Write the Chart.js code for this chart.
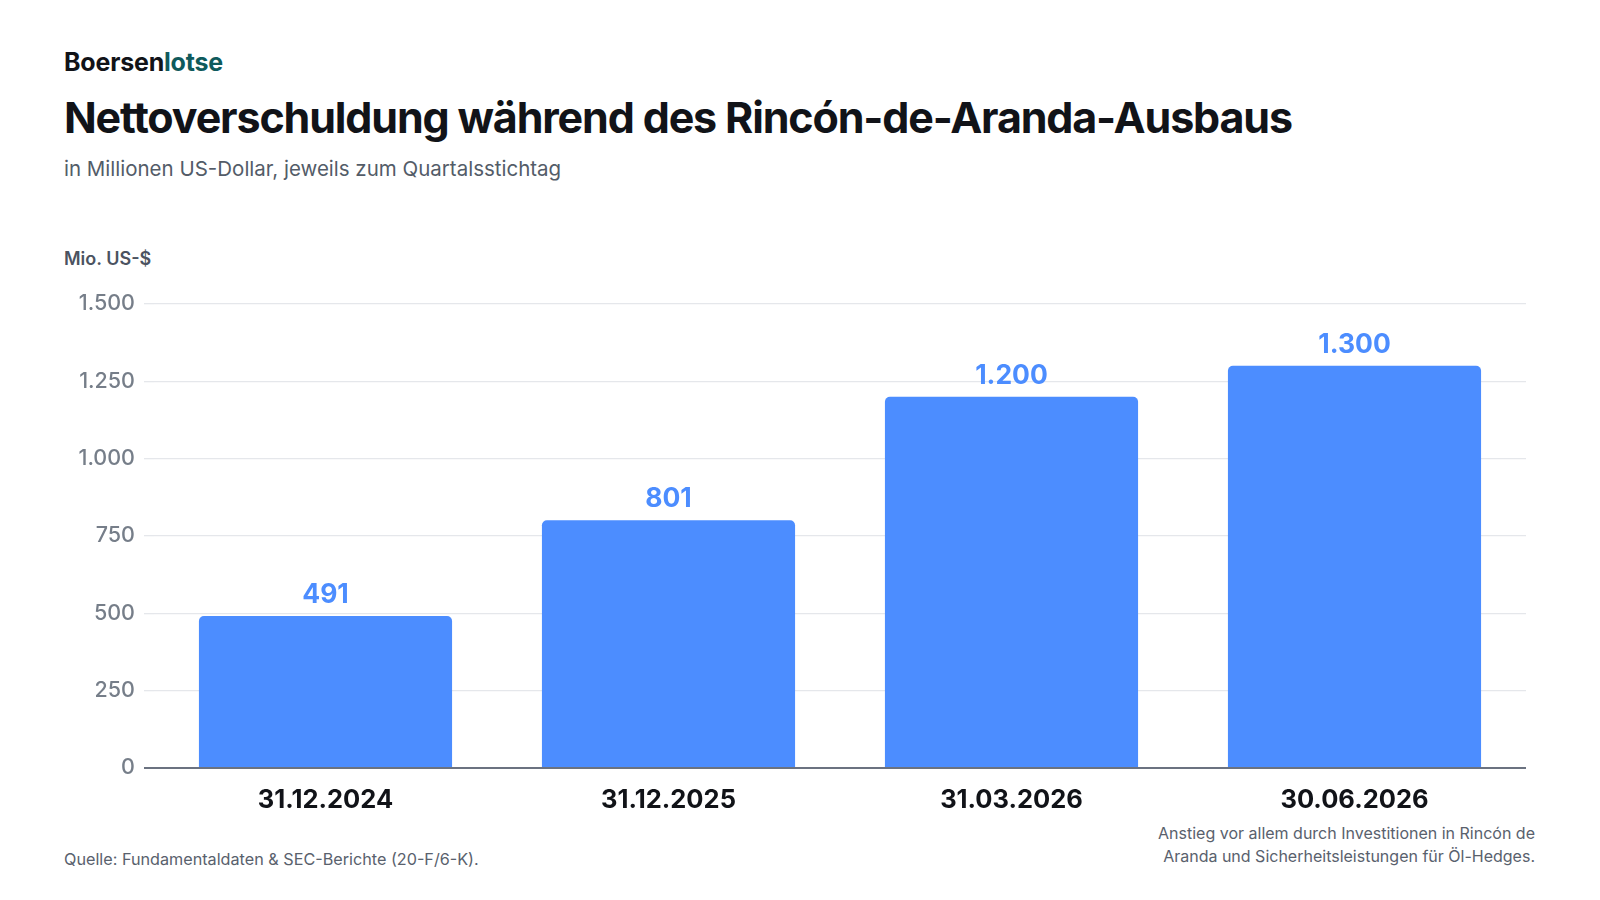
<!DOCTYPE html>
<html lang="de">
<head>
<meta charset="utf-8">
<title>Nettoverschuldung</title>
<script src="https://cdn.jsdelivr.net/npm/chart.js@4.4.1/dist/chart.umd.min.js"></script>
<style>
    html, body {
        margin: 0;
        padding: 0;
        background: #ffffff;
        font-family: Inter, "Noto Sans", sans-serif;
    }
    .page {
        position: relative;
        width: 1600px;
        height: 900px;
        overflow: hidden;
    }
    .brand {
        position: absolute;
        left: 64px;
        top: 47px;
        font-size: 25px;
        font-weight: 700;
        letter-spacing: -0.2px;
        color: #111318;
    }
    .brand span { color: #0f5a5c; }
    .title {
        position: absolute;
        left: 64px;
        top: 91px;
        font-size: 43px;
        font-weight: 700;
        letter-spacing: -1.15px;
        color: #111318;
        white-space: nowrap;
    }
    .subtitle {
        position: absolute;
        left: 64px;
        top: 156px;
        font-size: 20.5px;
        color: #535c68;
    }
    .unit {
        position: absolute;
        left: 64px;
        top: 248px;
        font-size: 18px;
        font-weight: 600;
        color: #4b5361;
    }
    .source {
        position: absolute;
        left: 64px;
        top: 849px;
        font-size: 16.2px;
        color: #59616d;
    }
    .note {
        position: absolute;
        right: 65px;
        top: 822px;
        font-size: 16px;
        line-height: 23px;
        text-align: right;
        color: #59616d;
    }
    #chartBox {
        position: absolute;
        left: 0;
        top: 280px;
        width: 1600px;
        height: 538px;
    }
</style>
</head>
<body>
<div class="page">
    <div class="brand">Boersen<span>lotse</span></div>
    <div class="title">Nettoverschuldung während des Rincón-de-Aranda-Ausbaus</div>
    <div class="subtitle">in Millionen US-Dollar, jeweils zum Quartalsstichtag</div>
    <div class="unit">Mio. US-$</div>
    <div id="chartBox"><canvas id="debtChart"></canvas></div>
    <div class="source">Quelle: Fundamentaldaten &amp; SEC-Berichte (20-F/6-K).</div>
    <div class="note">Anstieg vor allem durch Investitionen in Rincón de<br>Aranda und Sicherheitsleistungen für Öl-Hedges.</div>
</div>

<script>
const stichtage = ['31.12.2024', '31.12.2025', '31.03.2026', '30.06.2026'];
const nettoschulden = [491, 801, 1200, 1300];
const yMin = 0;
const yMax = 1500;
const yStep = 250;

const barColor = '#4c8dff';

function formatDE(v) {
    return String(Math.round(v)).replace(/\B(?=(\d{3})+(?!\d))/g, '.');
}

// Werte über den Balken
const valueLabels = {
    id: 'valueLabels',
    afterDatasetsDraw(chart) {
        const ctx = chart.ctx;
        const meta = chart.getDatasetMeta(0);
        ctx.save();
        ctx.font = '700 26.5px Inter, "Noto Sans", sans-serif';
        ctx.fillStyle = barColor;
        ctx.textAlign = 'center';
        ctx.textBaseline = 'alphabetic';
        meta.data.forEach((bar, i) => {
            ctx.fillText(formatDE(chart.data.datasets[0].data[i]), bar.x, bar.y - 13);
        });
        ctx.restore();
    }
};

window.onload = () => {
    new Chart(document.getElementById('debtChart'), {
        type: 'bar',
        data: {
            labels: stichtage,
            datasets: [{
                data: nettoschulden,
                backgroundColor: barColor,
                borderRadius: { topLeft: 5, topRight: 5 },
                borderSkipped: 'bottom',
                categoryPercentage: 0.9,
                barPercentage: 0.82
            }]
        },
        options: {
            responsive: true,
            maintainAspectRatio: false,
            animation: false,
            layout: {
                padding: { left: 64, right: 74, top: 24, bottom: 0 }
            },
            plugins: {
                legend: { display: false },
                tooltip: { enabled: false }
            },
            scales: {
                x: {
                    grid: { display: false, drawTicks: false },
                    border: { display: false },
                    ticks: {
                        padding: 17,
                        color: '#111318',
                        font: { family: 'Inter', size: 25.5, weight: '700' }
                    },
                    afterFit: (scale) => { scale.height = 50; }
                },
                y: {
                    min: yMin,
                    max: yMax,
                    border: { display: false },
                    grid: {
                        color: (c) => c.tick && c.tick.value === 0 ? '#6b7280' : '#e5e7eb',
                        lineWidth: (c) => c.tick && c.tick.value === 0 ? 2 : 1.3,
                        tickLength: 10
                    },
                    ticks: {
                        stepSize: yStep,
                        padding: 9,
                        color: '#767e89',
                        font: { family: 'Inter', size: 21.5, weight: '500' },
                        callback: (v) => formatDE(v)
                    },
                    afterFit: (scale) => { scale.width = 90; }
                }
            }
        },
        plugins: [valueLabels]
    });
};
</script>
</body>
</html>
